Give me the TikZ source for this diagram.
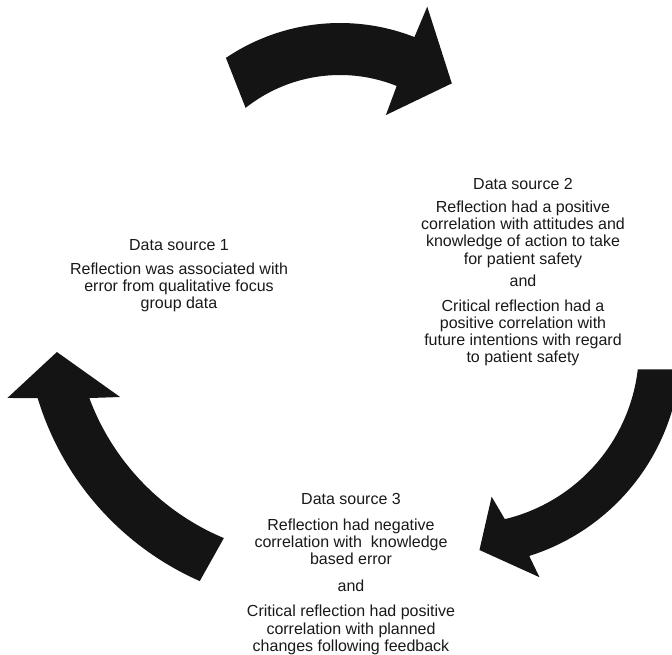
\documentclass[tikz,border=0pt]{standalone}
\usepackage{fontspec}
\setmainfont{Liberation Sans}
\begin{document}
\begin{tikzpicture}[x=1pt,y=-1pt,
  arrowfill/.style={fill=black!92},
  txt/.style={align=center, inner sep=0pt, anchor=north, text=black!90,
    font=\fontsize{16}{17.2}\selectfont}]
\useasboundingbox (0,0) rectangle (672,655);
\begin{scope}
\clip (0,0) rectangle (672,655);
% top arrow (centre 340,227)
\fill[arrowfill]
  plot[domain=-124:-68.6, samples=50] ({340+204*cos(\x)},{227+204*sin(\x)})
  -- ({340+237*cos(-68.4)},{227+237*sin(-68.4)})
  -- ({340+182*cos(-52.1)},{227+182*sin(-52.1)})
  -- ({340+121*cos(-67.7)},{227+121*sin(-67.7)})
  -- plot[domain=-68.1:-128.4, samples=50] ({340+152*cos(\x)},{227+152*sin(\x)})
  -- cycle;
% right arrow (centre 464,349)
\fill[arrowfill]
  plot[domain=5.4:72.5, samples=50] ({464+217*cos(\x)},{349+217*sin(\x)})
  -- ({464+240.4*cos(71.7)},{349+240.4*sin(71.7)})
  -- ({464+201.6*cos(85.6)},{349+201.6*sin(85.6)})
  -- ({464+150.3*cos(79.4)},{349+150.3*sin(79.4)})
  -- plot[domain=76.5:6.67, samples=50] ({464+175*cos(\x)},{349+175*sin(\x)})
  -- cycle;
% left arrow (centre 318,313)
\fill[arrowfill]
  plot[domain=113.8:163.1, samples=50] ({318+293*cos(\x)},{313+293*sin(\x)})
  -- ({318+322*cos(164.7)},{313+322*sin(164.7)})
  -- ({318+264*cos(171.5)},{313+264*sin(171.5)})
  -- ({318+215*cos(157)},{313+215*sin(157)})
  -- plot[domain=159.6:112.7, samples=50] ({318+244*cos(\x)},{313+244*sin(\x)})
  -- cycle;
\end{scope}
\node[txt] (ds1) at (179,239) {Data source 1\\[7pt]Reflection was associated with\\error from qualitative focus\\group data};
\node[txt] (ds2) at (523,178) {Data source 2\\[6pt]Reflection had a positive\\correlation with attitudes and\\knowledge of action to take\\for patient safety\\[5.5pt]and\\[7pt]Critical reflection had a\\positive correlation with\\future intentions with regard\\to patient safety};
\node[txt] (ds3) at (351,493) {Data source 3\\[8.5pt]Reflection had negative\\correlation with~ knowledge\\based error\\[10pt]and\\[8pt]Critical reflection had positive\\correlation with planned\\changes following feedback};
\end{tikzpicture}
\end{document}
